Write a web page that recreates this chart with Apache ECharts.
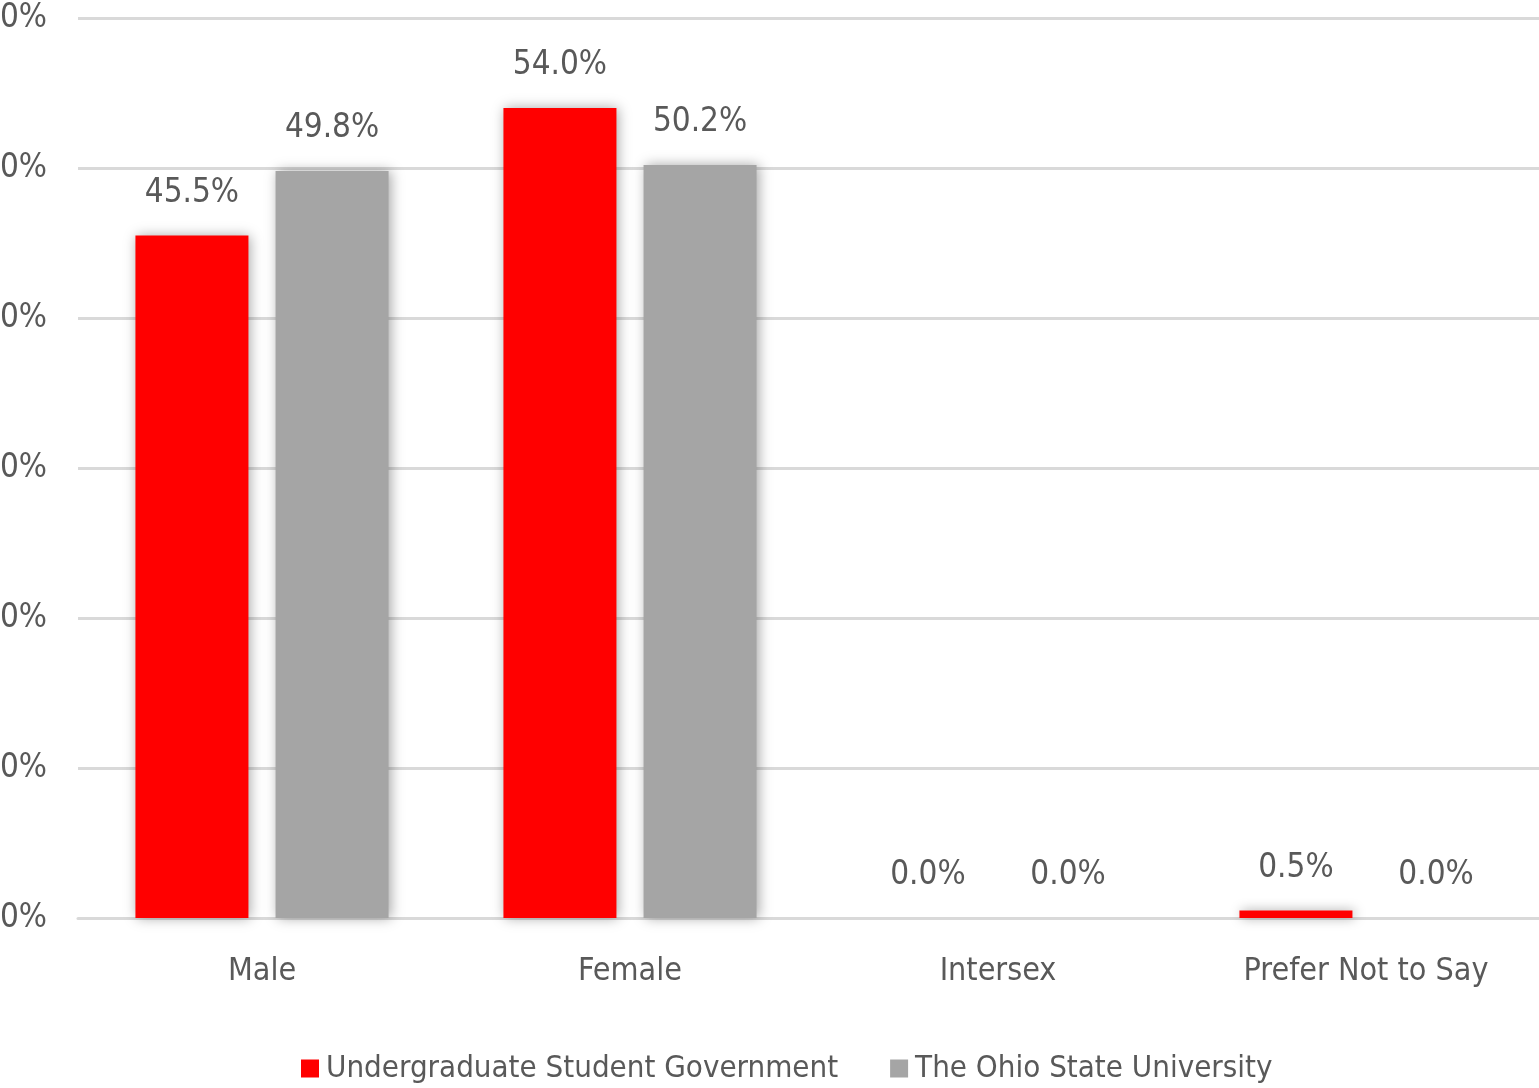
<!DOCTYPE html>
<html>
<head>
<meta charset="utf-8">
<script src="https://cdn.jsdelivr.net/npm/echarts@6/dist/echarts.min.js"></script>
<style>
html,body{margin:0;padding:0;background:#fff;}
#c{width:1539px;height:1088px;}
</style>
</head>
<body>
<div id="c"></div>
<script>
const categories = ['Male', 'Female', 'Intersex', 'Prefer Not to Say'];
const seriesNames = ['Undergraduate Student Government', 'The Ohio State University'];
const usgValues = [45.5, 54.0, 0.0, 0.5];
const osuValues = [49.8, 50.2, 0.0, 0.0];
const yTicks = [0, 10, 20, 30, 40, 50, 60];

const FONT = "'DejaVu Sans Condensed', 'Liberation Sans Narrow', 'Liberation Sans', sans-serif";
const chart = echarts.init(document.getElementById('c'), null, {renderer: 'canvas'});
const labelStyle = {
  show: true, position: 'top', distance: 26,
  formatter: p => p.value.toFixed(1) + '%',
  fontFamily: FONT, fontSize: 33, color: '#595959'
};
const shadow = {shadowBlur: 12, shadowColor: 'rgba(0,0,0,0.35)', shadowOffsetX: 2, shadowOffsetY: 0};
chart.setOption({
  animation: false,
  backgroundColor: '#fff',
  grid: {left: 78, right: -11, top: 18, bottom: 170, containLabel: false, outerBoundsMode: 'none'},
  legend: {
    top: 1048, left: 296,
    itemWidth: 18, itemHeight: 18, itemGap: 52,
    icon: 'rect',
    textStyle: {fontFamily: FONT, fontSize: 31, color: '#595959', padding: [0,0,0,2]},
    data: seriesNames
  },
  xAxis: {
    type: 'category', data: categories,
    axisLine: {show: true, lineStyle: {color: '#d9d9d9', width: 3}},
    axisTick: {show: false},
    axisLabel: {fontFamily: FONT, fontSize: 32, color: '#595959', margin: 38}
  },
  yAxis: {
    type: 'value', min: yTicks[0], max: yTicks[yTicks.length - 1], interval: 10,
    axisLine: {show: false}, axisTick: {show: false},
    splitLine: {lineStyle: {color: '#d9d9d9', width: 3}},
    axisLabel: {formatter: v => v + '%', fontFamily: FONT, fontSize: 33, color: '#595959', margin: 31}
  },
  series: [
    {name: seriesNames[0], type: 'bar', data: usgValues, barWidth: 113, barGap: '24%',
     itemStyle: Object.assign({color: '#ff0000'}, shadow), label: labelStyle},
    {name: seriesNames[1], type: 'bar', data: osuValues, barWidth: 113,
     itemStyle: Object.assign({color: '#a5a5a5'}, shadow), label: labelStyle}
  ]
});
</script>
</body>
</html>
